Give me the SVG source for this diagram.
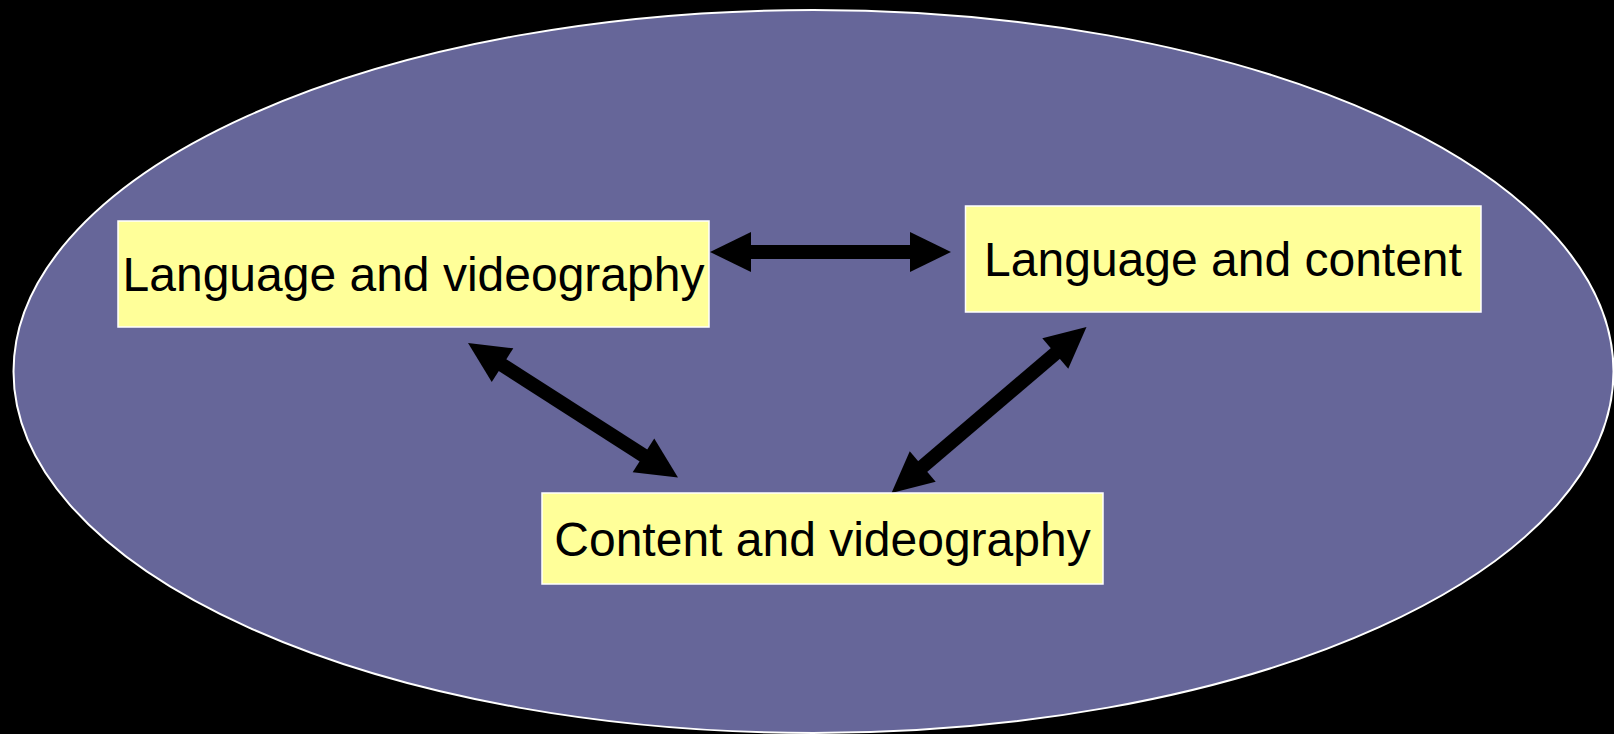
<svg xmlns="http://www.w3.org/2000/svg" width="1614" height="734" viewBox="0 0 1614 734">
  <style>
    .box { fill: #FFFF99; stroke: #FFFFFF; stroke-width: 1.5; }
    .label { font-family: "Liberation Sans", Arial, Helvetica, sans-serif; font-size: 48px; fill: #000000; text-anchor: middle; }
    .link { stroke: #000000; stroke-width: 14; fill: none; marker-start: url(#head); marker-end: url(#head); }
  </style>
  <defs>
    <marker id="head" markerUnits="userSpaceOnUse" viewBox="0 -20 40 40" markerWidth="40" markerHeight="40" refX="0" refY="0" orient="auto-start-reverse" overflow="visible">
      <path d="M-1,-20 L40,0 L-1,20 Z" fill="#000000"/>
    </marker>
  </defs>

  <rect x="0" y="0" width="1614" height="734" fill="#000000"/>

  <!-- backdrop ellipse -->
  <ellipse id="backdrop" cx="813.5" cy="371.5" rx="800" ry="361.5" fill="#666699" stroke="#FFFFFF" stroke-width="2"/>

  <!-- double-headed connectors -->
  <g id="connectors">
    <line class="link" x1="750" y1="252" x2="911" y2="252"/>
    <line class="link" x1="501.7" y1="364.6" x2="644.3" y2="456.0"/>
    <line class="link" x1="921.96" y1="467.07" x2="1056.04" y2="352.93"/>
  </g>

  <g id="lang-video">
    <rect class="box" x="118" y="221" width="591" height="106"/>
    <text class="label" x="413.5" y="291">Language and videography</text>
  </g>

  <g id="lang-content">
    <rect class="box" x="965.5" y="206" width="515.5" height="106"/>
    <text class="label" x="1223" y="276">Language and content</text>
  </g>

  <g id="content-video">
    <rect class="box" x="542" y="493" width="561" height="91"/>
    <text class="label" x="822.5" y="556">Content and videography</text>
  </g>
</svg>
